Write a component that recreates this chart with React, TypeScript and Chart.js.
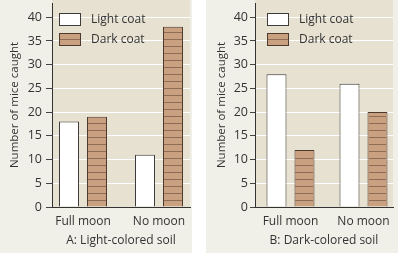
import React, { useEffect, useRef } from "react";
import { Chart, registerables } from "chart.js";
Chart.register(...registerables);

const categories = ["Full moon", "No moon"];
const seriesNames = ["Light coat", "Dark coat"];
const lightA = [18, 11];
const darkA = [19, 38];
const lightB = [28, 26];
const darkB = [12, 20];
const yTicks = [0, 5, 10, 15, 20, 25, 30, 35, 40];
const yMax = 43;
const yTitle = "Number of mice caught";
const titleA = "A: Light-colored soil";
const titleB = "B: Dark-colored soil";

const FONT = "'Open Sans', sans-serif";
const TEXT = "#333333";
const OUTER_BG = "#f0efe8";
const PLOT_BG = "#e6e1d1";
const DARK_FILL = "#c9a080";
const DARK_LINE = "#8f6c55";
const DARK_BORDER = "#4e3a2c";
const LIGHT_BORDER = "#3c3c3c";

type Panel = {
  left: number; width: number; height: number; axisW: number; plotRight: number;
  xMin: number; xMax: number; catPct: number; tickLen: number; tickPad: number;
  titlePad: number; legendX: number; light: number[]; dark: number[]; title: string;
};

const panels: Panel[] = [
  { left: 0, width: 192, height: 253, axisW: 52, plotRight: 190, xMin: -0.408, xMax: 1.408, catPct: 0.737, tickLen: 6, tickPad: 4, titlePad: 8, legendX: 59, light: lightA, dark: darkA, title: titleA },
  { left: 206, width: 192, height: 253, axisW: 49, plotRight: 187, xMin: -0.486, xMax: 1.404, catPct: 0.767, tickLen: 5, tickPad: 2, titlePad: 9, legendX: 61, light: lightB, dark: darkB, title: titleB },
];

const bgPlugin = {
  id: "plotBg",
  beforeDraw(chart: any) {
    const { ctx, chartArea } = chart;
    ctx.save();
    ctx.fillStyle = PLOT_BG;
    ctx.fillRect(chartArea.left, 0, chartArea.right - chartArea.left, chartArea.bottom);
    ctx.restore();
  },
};

const hatchPlugin = {
  id: "hatch",
  afterDatasetsDraw(chart: any) {
    const { ctx } = chart;
    const meta = chart.getDatasetMeta(1);
    ctx.save();
    ctx.strokeStyle = DARK_LINE;
    ctx.lineWidth = 1;
    meta.data.forEach((el: any) => {
      const { x, y, base, width } = el.getProps(["x", "y", "base", "width"], true);
      const l = Math.round(x - width / 2) + 1;
      const r = Math.round(x + width / 2) - 1;
      for (let yy = Math.round(base) - 7; yy > y + 2; yy -= 7) {
        ctx.beginPath();
        ctx.moveTo(l, yy + 0.5);
        ctx.lineTo(r, yy + 0.5);
        ctx.stroke();
      }
    });
    ctx.restore();
  },
};

const legendPlugin = {
  id: "insideLegend",
  afterDraw(chart: any, _args: any, opts: any) {
    const { ctx } = chart;
    const x = opts.x;
    ctx.save();
    ctx.font = `12px ${FONT}`;
    ctx.textBaseline = "middle";
    const rows = [13, 33];
    rows.forEach((top, i) => {
      ctx.fillStyle = i === 0 ? "#ffffff" : DARK_FILL;
      ctx.fillRect(x, top, 22, 13);
      if (i === 1) {
        ctx.strokeStyle = DARK_LINE;
        ctx.lineWidth = 1;
        ctx.beginPath();
        ctx.moveTo(x + 1, top + 6.5);
        ctx.lineTo(x + 21, top + 6.5);
        ctx.stroke();
      }
      ctx.strokeStyle = i === 0 ? LIGHT_BORDER : DARK_BORDER;
      ctx.lineWidth = 1;
      ctx.strokeRect(x + 0.5, top + 0.5, 21, 12);
      ctx.fillStyle = TEXT;
      ctx.fillText(seriesNames[i], x + 32, top + 7);
    });
    ctx.restore();
  },
};

function PanelChart({ p }: { p: Panel }) {
  const ref = useRef<HTMLCanvasElement>(null);
  useEffect(() => {
    const chart = new Chart(ref.current!, {
      type: "bar",
      data: {
        datasets: [
          {
            label: seriesNames[0],
            data: p.light.map((y, i) => ({ x: i, y })),
            backgroundColor: "#ffffff",
            borderColor: LIGHT_BORDER,
            borderWidth: 1,
          },
          {
            label: seriesNames[1],
            data: p.dark.map((y, i) => ({ x: i, y })),
            backgroundColor: DARK_FILL,
            borderColor: DARK_BORDER,
            borderWidth: 1,
          },
        ],
      } as any,
      options: {
        animation: false,
        responsive: false,
        devicePixelRatio: 1,
        layout: { padding: { top: 3, right: p.width - p.plotRight, left: 0, bottom: 0 } },
        datasets: { bar: { categoryPercentage: p.catPct, barPercentage: 0.714 } },
        plugins: {
          legend: { display: false },
          tooltip: { enabled: false },
          insideLegend: { x: p.legendX },
        } as any,
        scales: {
          x: {
            type: "linear",
            offset: false,
            min: p.xMin,
            max: p.xMax,
            afterBuildTicks: (s: any) => { s.ticks = categories.map((_, i) => ({ value: i })); },
            afterFit: (s: any) => { s.height = p.height - 207; s.paddingLeft = 0; s.paddingRight = 0; },
            ticks: {
              callback: (v: any) => categories[Math.round(Number(v))],
              font: { family: FONT, size: 12 },
              color: TEXT,
              padding: 7,
              autoSkip: false,
              maxRotation: 0,
            },
            grid: { display: false, drawTicks: false, offset: false },
            border: { display: true, color: "#333333", width: 1 },
            title: { display: true, text: p.title, font: { family: FONT, size: 12 }, color: TEXT, padding: { top: 0, bottom: 5 } },
          },
          y: {
            min: 0,
            max: yMax,
            afterBuildTicks: (s: any) => { s.ticks = yTicks.map((v) => ({ value: v })); },
            afterFit: (s: any) => { s.width = p.axisW; s.paddingTop = 0; s.paddingBottom = 0; },
            ticks: { font: { family: FONT, size: 12.5 }, color: TEXT, padding: p.tickPad },
            grid: { color: "#ffffff", lineWidth: 1, tickColor: "#444444", tickLength: p.tickLen, drawTicks: true },
            border: { display: true, color: "#333333", width: 1 },
            title: { display: true, text: yTitle, font: { family: FONT, size: 11.5 }, color: TEXT, padding: { top: p.titlePad, bottom: 0 } },
          },
        },
      } as any,
      plugins: [bgPlugin, hatchPlugin, legendPlugin],
    });
    return () => chart.destroy();
  }, [p]);
  return (
    <div style={{ position: "absolute", left: p.left, top: 0, width: p.width, height: p.height, background: OUTER_BG }}>
      <canvas ref={ref} width={p.width} height={p.height} style={{ display: "block" }} />
    </div>
  );
}

export default function App() {
  return (
    <div style={{ position: "absolute", left: 0, top: 0, width: 400, height: 256, background: "#ffffff" }}>
      {panels.map((p, i) => (
        <PanelChart key={i} p={p} />
      ))}
    </div>
  );
}
